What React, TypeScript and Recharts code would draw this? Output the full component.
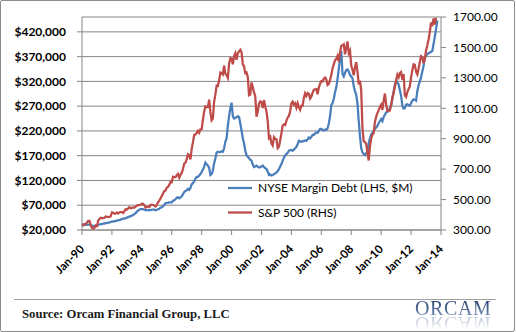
import { LineChart, Line, XAxis, YAxis, CartesianGrid } from "recharts";

const BLUE = "#4A7EBB";
const RED = "#BE4B48";
const GRID = "#868686";
const FONT = "Lato, 'Liberation Sans', Arial, sans-serif";

// x = months since Jan-1990
const xTicks = [0, 24, 48, 72, 96, 120, 144, 168, 192, 216, 240, 264, 288];
const xTickLabels = [
  "Jan-90", "Jan-92", "Jan-94", "Jan-96", "Jan-98", "Jan-00", "Jan-02",
  "Jan-04", "Jan-06", "Jan-08", "Jan-10", "Jan-12", "Jan-14",
];
const leftTicks = [20000, 70000, 120000, 170000, 220000, 270000, 320000, 370000, 420000];
const rightTicks = [300, 500, 700, 900, 1100, 1300, 1500, 1700];

// NYSE margin debt, $M, monthly Jan-90 .. Oct-13
const marginDebt = [
  31000, 31000, 31000, 30000, 31000, 31000, 31000, 30000, 29000, 28000, 28000, 29000,
  29000, 30000, 31000, 32000, 32000, 33000, 33000, 34000, 34000, 35000, 35000, 36000,
  37000, 37000, 38000, 38000, 39000, 40000, 40000, 41000, 42000, 43000, 43000, 44000,
  45000, 46000, 47000, 48000, 49000, 50000, 52000, 54000, 57000, 59000, 61000, 62000,
  62000, 62000, 61000, 60000, 60000, 60000, 60000, 60000, 61000, 61000, 61000, 60000,
  61000, 62000, 63000, 65000, 66000, 68000, 71000, 74000, 75000, 75000, 76000, 76000,
  76000, 79000, 80000, 82000, 85000, 86000, 84000, 86000, 88000, 92000, 97000, 99000,
  100000, 103000, 101000, 105000, 112000, 115000, 118000, 124000, 127000, 127000, 130000, 133000,
  137000, 142000, 148000, 156000, 153000, 150000, 146000, 131000, 133000, 140000, 155000, 165000,
  176000, 178000, 177000, 177000, 179000, 178000, 185000, 198000, 205000, 230000, 250000, 266000,
  277000, 250000, 245000, 246000, 248000, 250000, 248000, 235000, 221000, 205000, 195000, 180000,
  171000, 168000, 165000, 162000, 160000, 152000, 147000, 148000, 150000, 148000, 146000, 147000,
  148000, 150000, 147000, 145000, 143000, 138000, 131000, 132000, 130000, 131000, 133000, 134000,
  136000, 139000, 143000, 148000, 153000, 160000, 166000, 171000, 173000, 176000, 180000, 181000,
  181000, 180000, 182000, 185000, 188000, 193000, 200000, 199000, 198000, 199000, 200000, 201000,
  200000, 203000, 207000, 205000, 208000, 212000, 212000, 215000, 217000, 216000, 220000, 224000,
  224000, 222000, 221000, 223000, 222000, 225000, 235000, 250000, 272000, 276000, 285000, 298000,
  308000, 325000, 345000, 368000, 381000, 335000, 330000, 337000, 343000, 344000, 340000, 333000,
  330000, 326000, 310000, 300000, 293000, 275000, 240000, 210000, 185000, 177000, 173000, 171000,
  175000, 178000, 195000, 205000, 213000, 216000, 220000, 224000, 227000, 230000, 236000, 240000,
  244000, 240000, 248000, 253000, 257000, 259000, 262000, 266000, 271000, 285000, 300000, 313000,
  321000, 318000, 314000, 302000, 291000, 271000, 265000, 266000, 273000, 274000, 272000, 271000,
  276000, 281000, 284000, 283000, 281000, 300000, 312000, 320000, 328000, 340000, 351000, 368000,
  372000, 375000, 377000, 378000, 380000, 381000, 395000, 410000, 425000, 443000,
];

// S&P 500, monthly average, Jan-90 .. Sep-13
const sp500 = [
  340, 330, 338, 338, 350, 360, 360, 331, 315, 307, 315, 329,
  325, 362, 372, 380, 378, 378, 380, 389, 387, 387, 386, 389,
  416, 413, 407, 407, 415, 408, 415, 418, 418, 412, 423, 436,
  435, 442, 450, 443, 445, 448, 447, 454, 459, 464, 463, 466,
  473, 472, 464, 447, 451, 455, 451, 464, 467, 464, 461, 455,
  465, 482, 493, 508, 524, 539, 557, 559, 579, 583, 596, 615,
  614, 650, 647, 647, 661, 669, 644, 663, 675, 701, 736, 743,
  766, 798, 792, 764, 833, 876, 925, 928, 937, 951, 939, 962,
  963, 1024, 1077, 1112, 1108, 1108, 1157, 1075, 1021, 1032, 1144, 1190,
  1249, 1247, 1282, 1335, 1332, 1323, 1381, 1327, 1318, 1300, 1391, 1429,
  1426, 1389, 1442, 1461, 1418, 1462, 1473, 1485, 1468, 1390, 1375, 1331,
  1336, 1306, 1186, 1190, 1270, 1239, 1204, 1179, 1045, 1077, 1130, 1145,
  1140, 1101, 1154, 1112, 1079, 1014, 904, 913, 868, 855, 910, 899,
  896, 838, 847, 890, 936, 988, 993, 990, 1019, 1039, 1050, 1081,
  1133, 1143, 1124, 1133, 1103, 1133, 1106, 1089, 1118, 1118, 1169, 1199,
  1181, 1200, 1195, 1164, 1178, 1202, 1222, 1224, 1226, 1192, 1237, 1262,
  1279, 1277, 1294, 1302, 1290, 1253, 1260, 1287, 1318, 1363, 1389, 1416,
  1424, 1445, 1407, 1464, 1511, 1514, 1521, 1455, 1497, 1540, 1463, 1479,
  1379, 1355, 1317, 1370, 1403, 1341, 1257, 1281, 1217, 969, 883, 878,
  866, 805, 757, 848, 902, 926, 936, 1010, 1045, 1068, 1088, 1110,
  1124, 1089, 1152, 1197, 1125, 1083, 1080, 1087, 1122, 1172, 1199, 1242,
  1283, 1321, 1304, 1332, 1338, 1287, 1325, 1185, 1174, 1207, 1226, 1243,
  1301, 1352, 1389, 1386, 1341, 1323, 1360, 1403, 1443, 1438, 1395, 1422,
  1480, 1512, 1551, 1600, 1665, 1640, 1690, 1650, 1695,
];

const rows = marginDebt.map((d, i) => ({
  m: i,
  debt: d,
  spx: i < sp500.length ? sp500[i] : null,
}));

const legendItems = [
  { label: "NYSE Margin Debt (LHS, $M)", color: BLUE },
  { label: "S&P 500 (RHS)", color: RED },
];

function XTick(props: any) {
  const { x, y, payload } = props;
  const label = xTickLabels[xTicks.indexOf(payload.value)];
  return (
    <g transform={`translate(${x},${y}) rotate(-45)`}>
      <text x={0} y={0} dy="0.35em" textAnchor="end" fontFamily={FONT} fontSize={11.5} fontWeight={700} fill="#000">
        {label}
      </text>
    </g>
  );
}

function Overlay() {
  return (
    <svg width={516} height={332} style={{ position: "absolute", left: 0, top: 0, pointerEvents: "none" }}>
      {/* legend */}
      {legendItems.map((it, i) => (
        <g key={it.label}>
          <line x1={228} x2={252} y1={188 + i * 24.5} y2={188 + i * 24.5} stroke={it.color} strokeWidth={2.25} />
          <text x={258} y={188 + i * 24.5} dy="0.35em" fontFamily={FONT} fontSize={12} fill="#000">
            {it.label}
          </text>
        </g>
      ))}
      {/* footer */}
      <line x1={14} x2={496} y1={299.5} y2={299.5} stroke="#a0a0a0" strokeWidth={1} />
      <text x={22} y={317.5} fontFamily="'Liberation Serif', 'DejaVu Serif', serif" fontSize={12.7} fontWeight={700} fill="#1a1a1a">
        Source: Orcam Financial Group, LLC
      </text>
    </svg>
  );
}

function Logo() {
  return (
    <div
      style={{
        position: "absolute",
        left: 415,
        top: 299,
        height: 19,
        lineHeight: "19px",
        fontFamily: "'Liberation Serif', serif",
        fontSize: 20,
        letterSpacing: 0.6,
        color: "transparent",
        backgroundImage: "linear-gradient(#1c3766, #7d97bd)",
        WebkitBackgroundClip: "text",
        backgroundClip: "text",
        WebkitBoxReflect: "below -4px linear-gradient(rgba(255,255,255,0) 20%, rgba(255,255,255,0.55))",
      } as any}
    >
      ORCAM
    </div>
  );
}

export default function App() {
  return (
    <div style={{ position: "relative", width: 516, height: 332, background: "#fff" }}>
      <style>{"body{margin:0}"}</style>
      <div
        style={{
          position: "absolute",
          left: 0,
          top: 0,
          width: 515,
          height: 332,
          boxSizing: "border-box",
          border: "1px solid #8c8c8c",
          borderRadius: 2,
        }}
      />
      <LineChart width={516} height={332} data={rows} margin={{ top: 17, right: 0, bottom: 52, left: 0 }}>
        <CartesianGrid vertical={false} yAxisId="l" stroke={GRID} strokeWidth={1} />
        <XAxis
          dataKey="m"
          type="number"
          domain={[0, 288]}
          ticks={xTicks}
          interval={0}
          height={50}
          tickSize={5}
          tickMargin={12}
          stroke={GRID}
          tick={<XTick />}
        />
        <YAxis
          yAxisId="l"
          domain={[20000, 450000]}
          ticks={leftTicks}
          interval={0}
          width={82}
          tickSize={5}
          tickMargin={11}
          stroke={GRID}
          tickFormatter={(v: number) => `$${v.toLocaleString("en-US")}`}
          tick={{ fill: "#000", fontFamily: FONT, fontSize: 12, fontWeight: 700 }}
        />
        <YAxis
          yAxisId="r"
          orientation="right"
          domain={[300, 1700]}
          ticks={rightTicks}
          interval={0}
          width={75}
          tickSize={5}
          tickMargin={7}
          stroke={GRID}
          tickFormatter={(v: number) => v.toFixed(2)}
          tick={{ fill: "#000", fontFamily: FONT, fontSize: 12 }}
        />
        <Line
          yAxisId="l"
          type="linear"
          dataKey="debt"
          stroke={BLUE}
          strokeWidth={2.25}
          dot={false}
          isAnimationActive={false}
        />
        <Line
          yAxisId="r"
          type="linear"
          dataKey="spx"
          stroke={RED}
          strokeWidth={2.25}
          dot={false}
          connectNulls={false}
          isAnimationActive={false}
        />
      </LineChart>
      <Logo />
      <Overlay />
    </div>
  );
}
